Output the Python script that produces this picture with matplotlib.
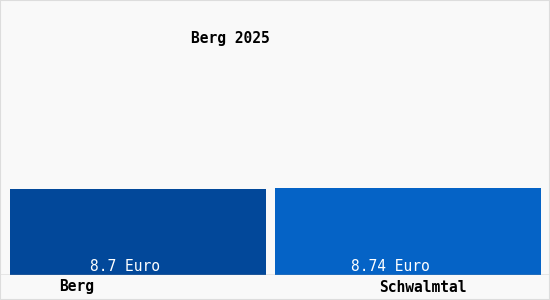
import matplotlib.pyplot as plt
from matplotlib.patches import Rectangle

# Werte
orte = ["Berg", "Schwalmtal"]
werte = [8.7, 8.74]
farben = ["#02489a", "#0563c6"]
titel = "Berg 2025"

plt.rcParams['font.family'] = ['DejaVu Sans Mono']

fig = plt.figure(figsize=(5.5, 3), dpi=100, facecolor="#f9f9f9")
ax = fig.add_axes([0, 1 - 275 / 300, 1, 275 / 300])
ax.set_facecolor("#f9f9f9")

pos = range(len(orte))
ax.bar(pos, werte, width=[0.948, 0.985], color=farben, zorder=2)
for p, w, dx in zip(pos, werte, [-0.048, -0.067]):
    ax.text(p + dx, 0.45, f"{w:g} Euro", ha="center", va="baseline",
            color="white", fontsize=10.5, zorder=3)

ax.axhline(0, color="#999999", lw=1, zorder=3)
ax.set_xlim(-0.511, 1.526)
ax.set_ylim(0, 8.7 * 275 / 86.5)
ax.axis("off")

# Beschriftungen unter den Balken
fig.text(77 / 550, 1 - 287 / 300, orte[0], ha="center", va="center",
         fontsize=10.5, fontweight="bold")
fig.text(423 / 550, 1 - 287 / 300, orte[1], ha="center", va="center",
         fontsize=10.5, fontweight="bold")
fig.text(230 / 550, 1 - 38 / 300, titel, ha="center", va="center",
         fontsize=10.5, fontweight="bold")

fig.patches.append(Rectangle((0, 0), 1, 1, transform=fig.transFigure,
                             fill=False, edgecolor="#dddddd", lw=1.5))

fig.savefig("out.png", dpi=100, facecolor=fig.get_facecolor())
